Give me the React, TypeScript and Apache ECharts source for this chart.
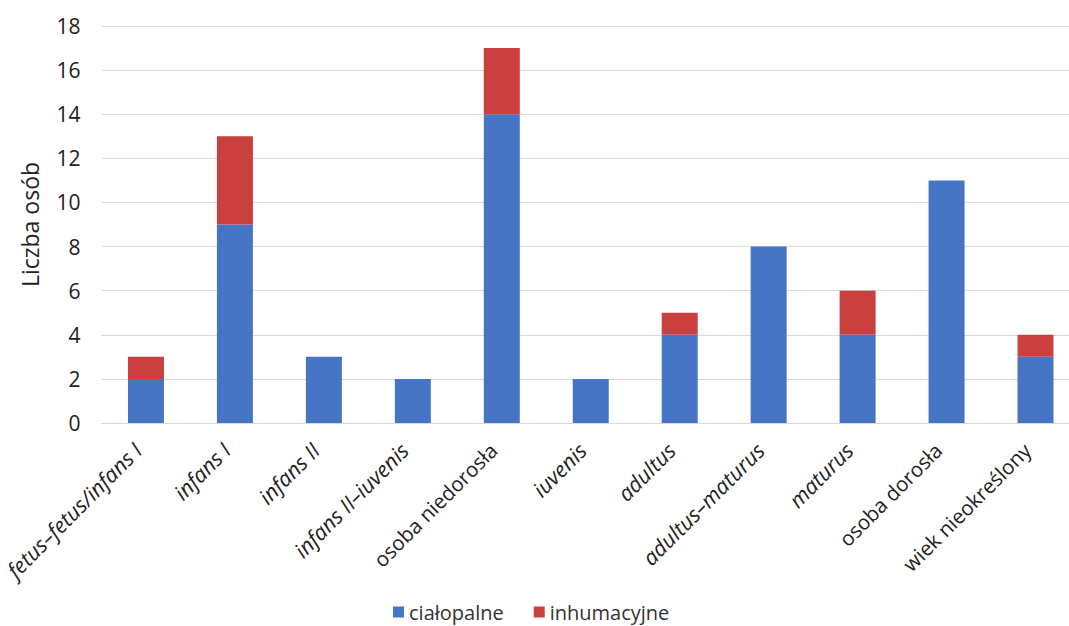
import React, { useEffect, useRef } from "react";
import * as echarts from "echarts";

const categories = [
  "fetus–fetus/infans I",
  "infans I",
  "infans II",
  "infans II–iuvenis",
  "osoba niedorosła",
  "iuvenis",
  "adultus",
  "adultus–maturus",
  "maturus",
  "osoba dorosła",
  "wiek nieokreślony",
];
const italicLabels = [true, true, true, true, false, true, true, true, true, false, false];
const cialopalne = [2, 9, 3, 2, 14, 2, 4, 8, 4, 11, 3];
const inhumacyjne = [1, 4, 0, 0, 3, 0, 1, 0, 2, 0, 1];
const seriesNames = ["ciałopalne", "inhumacyjne"];
const yTicks = { min: 0, max: 18, interval: 2 };

export default function App() {
  const ref = useRef<HTMLDivElement>(null);
  useEffect(() => {
    if (!ref.current) return;
    const chart = echarts.init(ref.current, undefined, { renderer: "svg" });
    const font = "'Open Sans', sans-serif";
    chart.setOption({
      animation: false,
      backgroundColor: "#ffffff",
      textStyle: { fontFamily: font },
      grid: {
        left: 101.5,
        top: 26,
        width: 978.5,
        height: 397,
        containLabel: false,
        outerBoundsMode: "none",
      },
      legend: {
        top: 597,
        left: 388,
        itemWidth: 11,
        itemHeight: 11,
        itemGap: 30,
        icon: "rect",
        textStyle: { fontSize: 20, color: "#333", fontFamily: font, letterSpacing: 1.5 },
        data: seriesNames,
      },
      xAxis: {
        type: "category",
        data: categories.map((c, i) => ({
          value: c,
          textStyle: italicLabels[i]
            ? { fontStyle: "italic", fontSize: 21.5 }
            : { fontStyle: "normal", fontSize: 20.5 },
        })),
        axisLine: { lineStyle: { color: "#d9d9d9" } },
        axisTick: { show: false },
        axisLabel: {
          interval: 0,
          rotate: 45,
          margin: 15,
          padding: [0, 12, 0, 0],
          color: "#222",
          fontSize: 20.5,
          fontFamily: font,
        },
      },
      yAxis: {
        type: "value",
        min: yTicks.min,
        max: yTicks.max,
        interval: yTicks.interval,
        name: "Liczba osób",
        nameLocation: "middle",
        nameGap: 60,
        nameTextStyle: { fontSize: 23, color: "#222", fontFamily: font, letterSpacing: 1.5 },
        axisLabel: { fontSize: 21, color: "#222", margin: 21 },
        axisLine: { show: false },
        axisTick: { show: false },
        splitLine: { lineStyle: { color: "#d9d9d9", width: 1 } },
      },
      series: [
        {
          name: seriesNames[0],
          type: "bar",
          stack: "a",
          barWidth: 36,
          data: cialopalne,
          itemStyle: { color: "#4775c6" },
        },
        {
          name: seriesNames[1],
          type: "bar",
          stack: "a",
          barWidth: 36,
          data: inhumacyjne,
          itemStyle: { color: "#c9403f" },
        },
      ],
    });
    return () => chart.dispose();
  }, []);
  return (
    <div
      ref={ref}
      style={{ position: "fixed", left: 0, top: 0, width: 1069, height: 626 }}
    />
  );
}
